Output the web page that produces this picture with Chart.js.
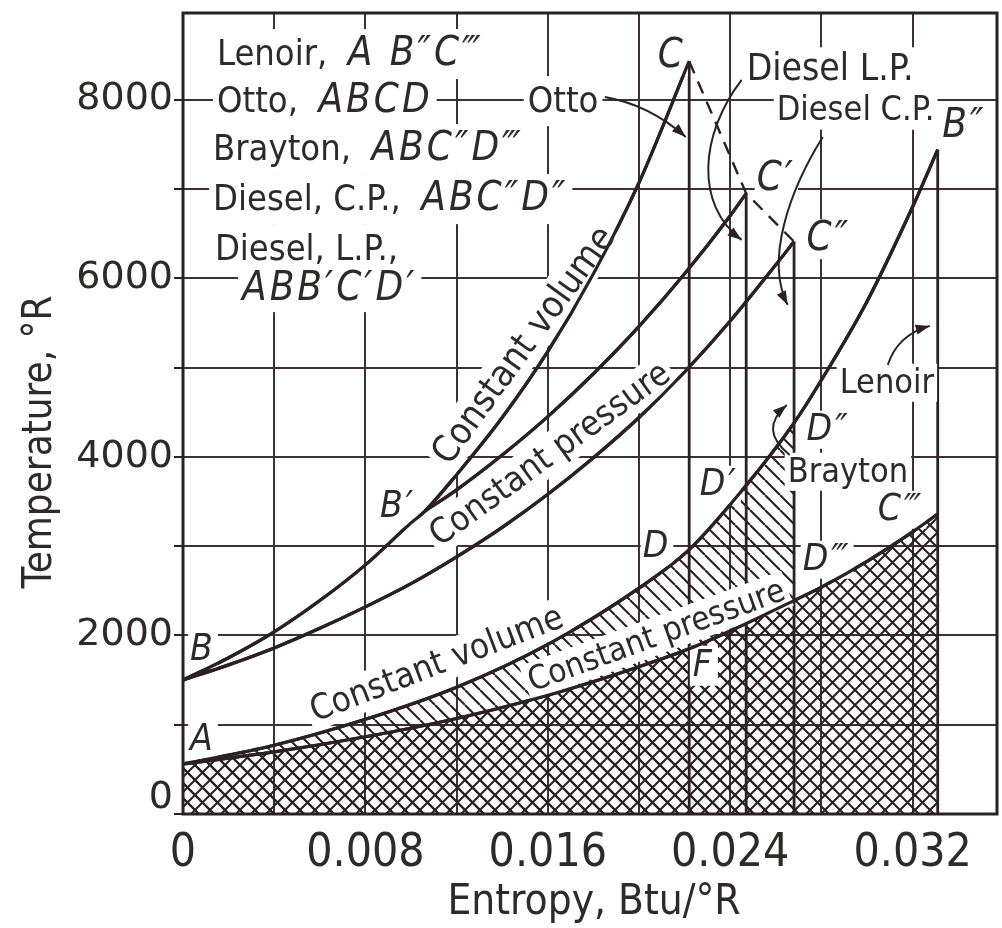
<!DOCTYPE html>
<html>
<head>
<meta charset="utf-8">
<script src="https://cdn.jsdelivr.net/npm/chart.js@4.4.1/dist/chart.umd.min.js"></script>
<style>
  html, body { margin: 0; padding: 0; background: #ffffff; }
  canvas { display: block; }
</style>
</head>
<body>
<canvas id="c" width="1002" height="928" style="width:1002px;height:928px"></canvas>
<script>
// ---------------- DATA ----------------
// Entropy s (Btu/°R) and temperature T (°R)
const sCvUpper = [0, 0.002, 0.004, 0.006, 0.008, 0.010, 0.0106, 0.012, 0.014, 0.016, 0.018, 0.020, 0.0222];
const tCvUpper = [1500, 1750, 2040, 2390, 2790, 3260, 3390, 3800, 4440, 5180, 6050, 7070, 8430];

const sCpPrime = [0.0106, 0.012, 0.014, 0.016, 0.018, 0.020, 0.022, 0.024, 0.0247];
const tCpPrime = [3390, 3630, 4020, 4450, 4930, 5460, 6050, 6700, 6950];

const sCpB = [0, 0.002, 0.004, 0.006, 0.008, 0.010, 0.012, 0.014, 0.016, 0.018, 0.020, 0.022, 0.024, 0.026, 0.0268];
const tCpB = [1500, 1670, 1860, 2080, 2320, 2580, 2880, 3210, 3580, 3990, 4440, 4950, 5520, 6150, 6410];

const sCvLower = [0, 0.004, 0.008, 0.012, 0.016, 0.020, 0.0222, 0.0247, 0.0268, 0.028, 0.030, 0.032, 0.0331];
const tCvLower = [560, 770, 1060, 1420, 1900, 2530, 2960, 3680, 4380, 4860, 5740, 6800, 7440];

const sCpLower = [0, 0.004, 0.008, 0.012, 0.016, 0.020, 0.0222, 0.024, 0.0268, 0.028, 0.030, 0.032, 0.0331];
const tCpLower = [560, 695, 865, 1070, 1330, 1650, 1850, 2050, 2390, 2540, 2830, 3160, 3360];

// isentropic (vertical) lines: C, C', C'', B''
const sIsentropic = [0.0222, 0.0247, 0.0268, 0.0331];
const tIsentropicTop = [8430, 6950, 6410, 7440];

// axis ticks
const xGridStep = 0.004;
const yGridStep = 1000;
const xTickLabels = ['0', '0.008', '0.016', '0.024', '0.032'];
const yTickLabels = ['0', '2000', '4000', '6000', '8000'];

// ---------------- STYLE ----------------
const INK = '#2b2124';
const GRID = '#3e3134';
const TEXT = '#2e2a2a';
const FONT = '"DejaVu Sans Condensed","Liberation Sans Narrow","DejaVu Sans",sans-serif';
const FONT_WIDE = '"DejaVu Sans",sans-serif';

const canvas = document.getElementById('c');
const mainCtx = canvas.getContext('2d');

function makePattern(kind) {
  const p = 15;
  const c = document.createElement('canvas');
  c.width = p; c.height = p;
  const g = c.getContext('2d');
  g.strokeStyle = INK;
  g.lineWidth = 2.1;
  g.beginPath();
  for (let k = -1; k <= 1; k++) {
    g.moveTo(k * p, 0); g.lineTo(k * p + p, p);
    if (kind === 'cross') { g.moveTo(k * p, p); g.lineTo(k * p + p, 0); }
  }
  g.stroke();
  return mainCtx.createPattern(c, 'repeat');
}
const crossPattern = makePattern('cross');
const singlePattern = makePattern('single');

function pts(xs, ys) { return xs.map((x, i) => ({ x: x, y: ys[i] })); }

function curve(xs, ys, extra) {
  return Object.assign({
    data: pts(xs, ys),
    borderColor: INK,
    borderWidth: 3.2,
    pointRadius: 0,
    cubicInterpolationMode: 'monotone',
    fill: false
  }, extra || {});
}

const datasets = [
  curve(sCvUpper, tCvUpper),
  curve(sCpPrime, tCpPrime),
  curve(sCpB, tCpB),
  curve(sCvLower, tCvLower),
  curve(sCpLower, tCpLower, { fill: 'origin', backgroundColor: crossPattern }),
  // single-hatched heat-rejection area under the constant-volume line up to D''
  Object.assign(curve(sCvLower.filter(s => s <= sIsentropic[2] + 1e-9),
                      tCvLower.filter((t, i) => sCvLower[i] <= sIsentropic[2] + 1e-9)),
                { borderWidth: 0, fill: 'origin', backgroundColor: singlePattern })
];
sIsentropic.forEach((s, i) => {
  datasets.push({
    data: [{ x: s, y: tIsentropicTop[i] }, { x: s, y: 0 }],
    borderColor: INK, borderWidth: 2.8, pointRadius: 0, fill: false, tension: 0
  });
});
datasets.push({
  data: pts(sIsentropic.slice(0, 3), tIsentropicTop.slice(0, 3)),
  borderColor: INK, borderWidth: 2.4, borderDash: [13, 9], pointRadius: 0, fill: false, tension: 0
});

// ---------------- annotations (text labels, in data units) ----------------
const labels = [
  { parts: [['Lenoir,  ', 0], ['A B″C‴', 1]], s: 0.00149, t: 8389, size: 36, pad: [4, 7] },
  { parts: [['Otto,  ', 0], ['ABCD', 1]], s: 0.00149, t: 7862, size: 36, pad: [4, 7] },
  { parts: [['Otto', 0]], s: 0.01512, t: 7862, size: 36, pad: [4, 7] },
  { parts: [['Brayton,  ', 0], ['ABC″D‴', 1]], s: 0.00132, t: 7325, size: 36, pad: [4, 7] },
  { parts: [['Diesel, C.P.,  ', 0], ['ABC″D″', 1]], s: 0.00132, t: 6765, size: 36, pad: [4, 7] },
  { parts: [['Diesel, L.P.,', 0]], s: 0.00140, t: 6205, size: 36, pad: [4, 7] },
  { parts: [['ABB′C′D′', 1]], s: 0.00259, t: 5757, size: 36, pad: [4, 5] },
  { parts: [['C', 1]], s: 0.02082, t: 8366, size: 36, pad: [2, 2] },
  { parts: [['Diesel L.P.', 0]], s: 0.02472, t: 8221, size: 37, pad: [3, 3] },
  { parts: [['Diesel C.P.', 0]], s: 0.02604, t: 7773, size: 34, pad: [3, 3] },
  { parts: [['B″', 1]], s: 0.03330, t: 7582, size: 36, pad: [2, 2] },
  { parts: [['C′', 1]], s: 0.02516, t: 6989, size: 36, pad: [2, 2] },
  { parts: [['C″', 1]], s: 0.02735, t: 6317, size: 36, pad: [2, 2] },
  { parts: [['B′', 1]], s: 0.00864, t: 3326, size: 34, pad: [2, 2] },
  { parts: [['B', 1]], s: 0.00031, t: 1725, size: 34, pad: [2, 2] },
  { parts: [['A', 1]], s: 0.00031, t: 717, size: 34, pad: [2, 2] },
  { parts: [['D', 1]], s: 0.02016, t: 2878, size: 34, pad: [2, 2] },
  { parts: [['D′', 1]], s: 0.02266, t: 3573, size: 34, pad: [2, 2] },
  { parts: [['D″', 1]], s: 0.02735, t: 4189, size: 34, pad: [2, 2] },
  { parts: [['D‴', 1]], s: 0.02718, t: 2733, size: 34, pad: [2, 2] },
  { parts: [['C‴', 1]], s: 0.03047, t: 3293, size: 34, pad: [2, 2] },
  { parts: [['Lenoir', 0]], s: 0.02880, t: 4715, size: 34, pad: [3, 2] },
  { parts: [['Brayton', 0]], s: 0.02652, t: 3718, size: 34, pad: [3, 2] },
  { parts: [['F', 1]], s: 0.02236, t: 1546, size: 34, pad: [3, 3] },
  { parts: [['Constant volume', 0]], s: 0.01486, t: 5264, size: 37, angle: -54, center: true, pad: [4, 2] },
  { parts: [['Constant pressure', 0]], s: 0.01604, t: 4050, size: 35, angle: -36, center: true, pad: [4, 2] },
  { parts: [['Constant volume', 0]], s: 0.01109, t: 1702, size: 35, angle: -21, center: true, pad: [4, 2] },
  { parts: [['Constant pressure', 0]], s: 0.02073, t: 2016, size: 33, angle: -20, center: true, pad: [4, 2] }
];

// leader lines with arrowheads (control points in data units)
const leaders = [
  [[0.01850, 8030], [0.02047, 7941], [0.02205, 7582]],
  [[0.02450, 8221], [0.02266, 7605], [0.02244, 6821], [0.02450, 6429]],
  [[0.02806, 7582], [0.02661, 6989], [0.02551, 6205], [0.02652, 5701]],
  [[0.03091, 5029], [0.03134, 5365], [0.03275, 5466]],
  [[0.02661, 4021], [0.02521, 4301], [0.02648, 4581]]
];

function partFont(p, size) {
  return (p[1] ? 'italic ' + Math.round(size * 1.1) : size) + 'px ' + FONT;
}

function drawLabel(ctx, l, px, py, mode) {
  const size = l.size;
  ctx.save();
  ctx.translate(px, py);
  if (l.angle) ctx.rotate(l.angle * Math.PI / 180);
  const widths = l.parts.map(p => {
    ctx.font = partFont(p, size);
    ctx.letterSpacing = p[1] ? '3px' : '0px';
    return ctx.measureText(p[0]).width;
  });
  const total = widths.reduce((a, b) => a + b, 0);
  const x0 = l.center ? -total / 2 : 0;
  const yb = l.center ? size * 0.36 : 0;
  if (mode === 'box') {
    ctx.fillStyle = '#ffffff';
    ctx.fillRect(x0 - l.pad[0], yb - size * 0.8 - l.pad[1], total + 2 * l.pad[0], size * 1.0 + 2 * l.pad[1]);
  } else {
    ctx.fillStyle = TEXT;
    ctx.textAlign = 'left';
    ctx.textBaseline = 'alphabetic';
    let cx = x0;
    l.parts.forEach((p, i) => {
      ctx.font = partFont(p, size);
      ctx.letterSpacing = p[1] ? '3px' : '0px';
      ctx.fillText(p[0], cx, yb);
      cx += widths[i];
    });
  }
  ctx.restore();
}

function drawLeader(ctx, P) {
  ctx.save();
  ctx.strokeStyle = INK;
  ctx.fillStyle = INK;
  ctx.lineWidth = 2;
  ctx.beginPath();
  ctx.moveTo(P[0][0], P[0][1]);
  if (P.length === 3) ctx.quadraticCurveTo(P[1][0], P[1][1], P[2][0], P[2][1]);
  else ctx.bezierCurveTo(P[1][0], P[1][1], P[2][0], P[2][1], P[3][0], P[3][1]);
  ctx.stroke();
  const e = P[P.length - 1], c = P[P.length - 2];
  const a = Math.atan2(e[1] - c[1], e[0] - c[0]);
  ctx.translate(e[0], e[1]);
  ctx.rotate(a);
  ctx.beginPath();
  ctx.moveTo(0, 0);
  ctx.lineTo(-14, -5);
  ctx.lineTo(-14, 5);
  ctx.closePath();
  ctx.fill();
  ctx.restore();
}

const artPlugin = {
  id: 'art',
  afterDatasetsDraw(chart) {
    const ctx = chart.ctx;
    const xs = chart.scales.x, ys = chart.scales.y;
    const X = v => xs.getPixelForValue(v), Y = v => ys.getPixelForValue(v);
    const a = chart.chartArea;
    ctx.save();
    ctx.beginPath();
    ctx.rect(a.left, a.top, a.right - a.left, a.bottom - a.top);
    ctx.clip();
    labels.forEach(l => drawLabel(ctx, l, X(l.s), Y(l.t), 'box'));
    [0, 1, 2, 3, 4].forEach(i => chart.getDatasetMeta(i).dataset.draw(ctx, a));
    labels.forEach(l => drawLabel(ctx, l, X(l.s), Y(l.t), 'text'));
    leaders.forEach(L => drawLeader(ctx, L.map(p => [X(p[0]), Y(p[1])])));
    ctx.restore();
  },
  afterDraw(chart) {
    const ctx = chart.ctx;
    const a = chart.chartArea;
    ctx.save();
    ctx.strokeStyle = INK;
    ctx.lineWidth = 3;
    ctx.strokeRect(a.left, a.top, a.right - a.left, a.bottom - a.top);
    ctx.fillStyle = TEXT;
    ctx.font = '42px ' + FONT;
    ctx.textAlign = 'center';
    ctx.textBaseline = 'alphabetic';
    ctx.fillText('Entropy, Btu/°R', (a.left + a.right) / 2 + 4, 914);
    ctx.font = '40px ' + FONT;
    ctx.translate(51, 442);
    ctx.rotate(-Math.PI / 2);
    ctx.fillText('Temperature, °R', 0, 0);
    ctx.restore();
  }
};

function stepTicks(max, step) {
  const out = [];
  for (let k = 0; k * step <= max + step * 1e-6; k++) out.push({ value: +(k * step).toFixed(6) });
  return out;
}

new Chart(canvas, {
  type: 'line',
  data: { datasets: datasets },
  plugins: [artPlugin],
  options: {
    responsive: false,
    animation: false,
    devicePixelRatio: 1,
    layout: { padding: { top: 13, right: 5, left: 0, bottom: 0 } },
    plugins: {
      legend: { display: false },
      tooltip: { enabled: false },
      filler: { drawTime: 'beforeDatasetsDraw' }
    },
    scales: {
      x: {
        type: 'linear', min: 0, max: 0.0357,
        afterBuildTicks(s) { s.ticks = stepTicks(0.032, xGridStep); },
        afterFit(s) { s.height = 114; s.paddingLeft = 0; s.paddingRight = 0; },
        border: { display: false },
        grid: { color: GRID, lineWidth: 2, drawTicks: false },
        ticks: {
          autoSkip: false, maxRotation: 0, padding: 12,
          color: TEXT, font: { family: FONT, size: 46 },
          callback(v) {
            const i = Math.round(v / (2 * xGridStep));
            return (Math.abs(v - i * 2 * xGridStep) < 1e-9 && xTickLabels[i] !== undefined) ? xTickLabels[i] : '';
          }
        }
      },
      y: {
        type: 'linear', min: 0, max: 8970,
        afterBuildTicks(s) { s.ticks = stepTicks(8000, yGridStep); },
        afterFit(s) { s.width = 183; s.paddingTop = 0; s.paddingBottom = 0; },
        border: { display: false },
        grid: { color: GRID, lineWidth: 2, tickLength: 9, tickColor: INK },
        ticks: {
          autoSkip: false, padding: 1,
          color: TEXT, font: { family: FONT_WIDE, size: 38, lineHeight: 0.85 },
          callback(v) {
            const i = Math.round(v / (2 * yGridStep));
            if (!(Math.abs(v - i * 2 * yGridStep) < 1e-6 && yTickLabels[i] !== undefined)) return '';
            // the bottom label sits just above the axis corner, as in the original figure
            return i === 0 ? [yTickLabels[i], ''] : yTickLabels[i];
          }
        }
      }
    }
  }
});
</script>
</body>
</html>
